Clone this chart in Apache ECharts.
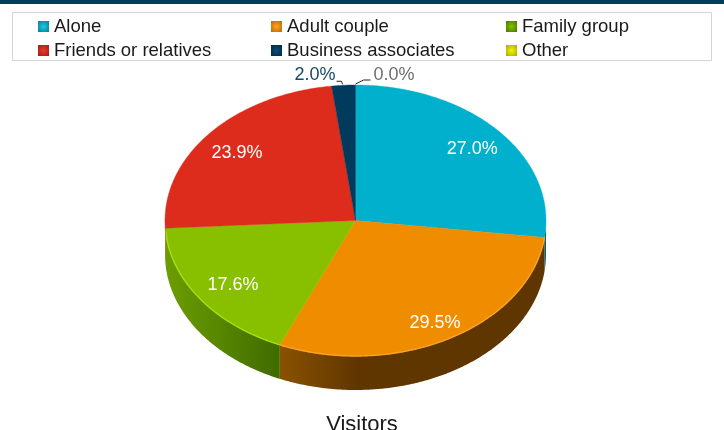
<!DOCTYPE html>
<html>
<head>
<meta charset="utf-8">
<style>
  html, body { margin: 0; padding: 0; background: #fff; }
  #chart { width: 724px; height: 430px; }
</style>
<script src="https://cdn.jsdelivr.net/npm/echarts@6/dist/echarts.min.js"></script>
</head>
<body>
<div id="chart"></div>
<script>
const categories = ['Alone', 'Adult couple', 'Family group', 'Friends or relatives', 'Business associates', 'Other']
const visitors = [27.0, 29.5, 17.6, 23.9, 2.0, 0.0]
const chartTitle = 'Visitors'

const topColors = ['#00b0cc', '#f08c00', '#88c000', '#dd2c1c', '#003a5d', '#e6e600']
const rimColors = [null, '#f9a422', '#a6e010', null, null, null]
const wallColors = [
  ['#005c70', '#00667c'],
  ['#8a5200', '#5f3500'],
  ['#6c9e00', '#3f6b00'],
  ['#8a1a10', '#8a1a10'],
  ['#002338', '#002338'],
  ['#808000', '#808000']
]
const iconColors = [
  ['#22c8e0', '#007f96'],
  ['#ffa51e', '#b86a00'],
  ['#88c000', '#4a7400'],
  ['#ee3a2a', '#a01c12'],
  ['#0a4f7c', '#00283f'],
  ['#f5f500', '#a8a800']
]
const labelColors = ['#ffffff', '#ffffff', '#ffffff', '#ffffff', '#17476b', '#6e6e6e']

// pie geometry, the top face is an ellipse and the wall hangs below it
const cx = 355.5
const cy = 220.5
const rx = 190.5
const ry = 135.5
const depth = 34
const labelRatio = 0.81
// small shifts for the inside labels, index by category
const labelNudge = [[1, 1], [3, 7], [4, 2], [0, 3]]
// outside labels and their leader lines, index by category
const outsideLabels = {
  4: { x: 315, y: 75, line: [[-1, -1], [-2, -4], [-7, -4]] },
  5: { x: 394, y: 75, line: [[0, -1], [8, -5], [15, -5]] }
}

const rimPoint = (deg, ratio = 1, dy = 0) => {
  const a = (deg * Math.PI) / 180
  return [cx + rx * ratio * Math.sin(a), cy - ry * ratio * Math.cos(a) + dy]
}

const arcPoints = (from, to, dy = 0) => {
  const pts = []
  const steps = Math.max(1, Math.ceil((to - from) * 2))
  for (let i = 0; i <= steps; i++) {
    pts.push(rimPoint(from + ((to - from) * i) / steps, 1, dy))
  }
  return pts
}

const renderSlice = (idx) => (params, api) => {
  const from = (api.value(0) / 100) * 360
  const to = ((api.value(0) + api.value(1)) / 100) * 360
  const children = []

  // wall, only the front half of the ellipse shows
  const wallFrom = Math.max(from, 90)
  const wallTo = Math.min(to, 270)
  if (wallTo > wallFrom) {
    const upper = arcPoints(wallFrom, wallTo)
    const lower = arcPoints(wallFrom, wallTo, depth).reverse()
    children.push({
      type: 'polygon',
      shape: { points: upper.concat(lower) },
      style: {
        fill: new echarts.graphic.LinearGradient(
          0, 0, 1, 0,
          idx === 1
            ? [
                { offset: 0, color: wallColors[idx][0] },
                { offset: 0.3, color: wallColors[idx][1] },
                { offset: 1, color: wallColors[idx][1] }
              ]
            : [
                { offset: 0, color: wallColors[idx][0] },
                { offset: 1, color: wallColors[idx][1] }
              ]
        )
      }
    })
  }

  // top face
  if (to > from) {
    children.push({
      type: 'polygon',
      shape: { points: [[cx, cy]].concat(arcPoints(from, to)) },
      style: { fill: topColors[idx], stroke: topColors[idx], lineWidth: 0.4 }
    })
  }
  if (wallTo > wallFrom && rimColors[idx]) {
    children.push({
      type: 'polyline',
      shape: { points: arcPoints(wallFrom, wallTo) },
      style: { stroke: rimColors[idx], lineWidth: 1.4, fill: null }
    })
  }

  // value label
  const text = api.value(1).toFixed(1) + '%'
  const outside = outsideLabels[idx]
  let labelPos
  if (outside) {
    labelPos = [outside.x, outside.y]
    const start = rimPoint((from + to) / 2)
    children.push({
      type: 'polyline',
      shape: { points: outside.line.map(p => [start[0] + p[0], start[1] + p[1]]) },
      style: { stroke: '#222222', lineWidth: 1, fill: null }
    })
  } else {
    const p = rimPoint((from + to) / 2, labelRatio)
    labelPos = [p[0] + labelNudge[idx][0], p[1] + labelNudge[idx][1]]
  }
  children.push({
    type: 'text',
    x: labelPos[0],
    y: labelPos[1],
    z2: 10,
    style: {
      text,
      fill: labelColors[idx],
      font: '18px "Liberation Sans", Arial, sans-serif',
      align: 'center',
      verticalAlign: 'middle'
    }
  })

  return { type: 'group', children }
}

let running = 0
const series = categories.map((name, idx) => {
  const start = running
  running += visitors[idx]
  return {
    type: 'custom',
    name,
    coordinateSystem: 'none',
    silent: true,
    animation: false,
    clip: false,
    itemStyle: { color: topColors[idx] },
    renderItem: renderSlice(idx),
    data: [[start, visitors[idx]]]
  }
})

const legendColumn = (left, names) => ({
  orient: 'vertical',
  left,
  top: 12,
  itemWidth: 11,
  itemHeight: 11,
  itemGap: 5,
  icon: 'rect',
  selectedMode: false,
  textStyle: {
    color: '#1a1a1a',
    fontSize: 18.5,
    fontFamily: '"Liberation Sans", Arial, sans-serif'
  },
  data: names.map(name => ({
    name,
    itemStyle: {
      color: new echarts.graphic.RadialGradient(0.5, 0.5, 0.7, [
        { offset: 0, color: iconColors[categories.indexOf(name)][0] },
        { offset: 1, color: iconColors[categories.indexOf(name)][1] }
      ]),
      borderWidth: 0
    }
  }))
})

const chart = echarts.init(document.getElementById('chart'), null, { renderer: 'canvas' })

chart.setOption({
  backgroundColor: '#ffffff',
  animation: false,
  title: {
    text: chartTitle,
    left: 357,
    textAlign: 'center',
    top: 409,
    textStyle: {
      color: '#1a1a1a',
      fontSize: 22,
      fontWeight: 'normal',
      fontFamily: '"Liberation Sans", Arial, sans-serif'
    }
  },
  legend: [
    legendColumn(33, [categories[0], categories[3]]),
    legendColumn(266, [categories[1], categories[4]]),
    legendColumn(501, [categories[2], categories[5]])
  ],
  graphic: [
    {
      type: 'rect',
      shape: { x: 0, y: 0, width: 724, height: 4 },
      style: { fill: '#003f5f' },
      silent: true
    },
    {
      type: 'rect',
      shape: { x: 12.5, y: 12.5, width: 699, height: 48 },
      style: { fill: 'none', stroke: '#d4d4d4', lineWidth: 1 },
      silent: true
    }
  ],
  series
})
</script>
</body>
</html>
